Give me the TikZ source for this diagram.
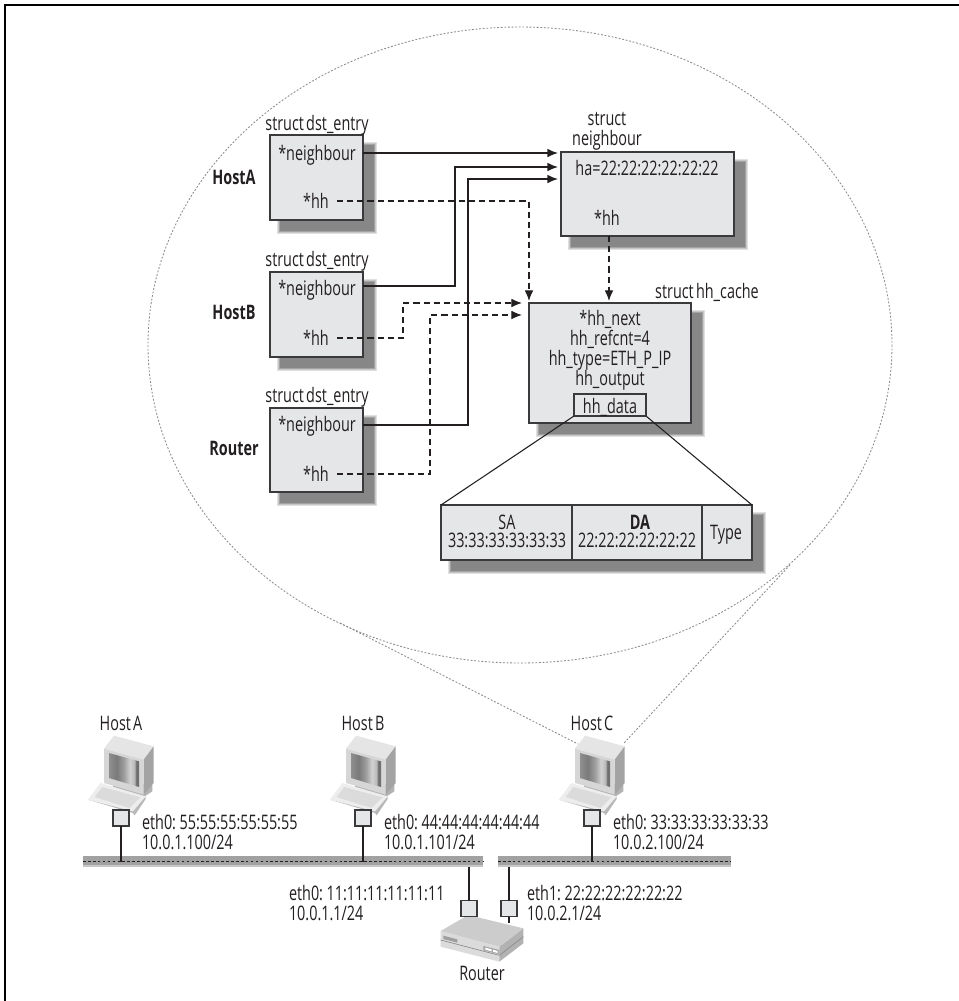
\documentclass[tikz,border=0pt]{standalone}
\usepackage{fontspec}
\setmainfont[FakeStretch=0.72,WordSpace=0.6]{Open Sans}
\usetikzlibrary{arrows.meta}
\definecolor{boxfill}{HTML}{E5E6E8}
\definecolor{boxline}{HTML}{3A3A3C}
\definecolor{ink}{HTML}{231F20}
\pgfdeclarehorizontalshading{screenshade}{100bp}{%
  rgb(0bp)=(.56,.56,.56); rgb(25bp)=(.56,.56,.56); rgb(38bp)=(.48,.48,.48);
  rgb(50bp)=(.62,.62,.62); rgb(60bp)=(.82,.82,.82); rgb(68bp)=(.72,.72,.72);
  rgb(70bp)=(.42,.42,.42); rgb(75bp)=(.45,.45,.45); rgb(100bp)=(.45,.45,.45)}
\newcommand{\softshadow}[4]{%
  \fill[black!12] (#1+7,#2+7) rectangle (#3+14,#4+14);
  \fill[black!22] (#1+8,#2+8) rectangle (#3+13,#4+13);
  \fill[black!36] (#1+9,#2+9) rectangle (#3+12,#4+12);
  \fill[black!47] (#1+10,#2+10) rectangle (#3+11,#4+11);
}
\tikzset{
  lbl/.style={font=\fontsize{15}{16}\selectfont, text=ink, inner sep=0pt, outer sep=0pt, text height=10.5pt, text depth=0pt},
  boldl/.style={lbl, font=\fontsize{15}{16}\selectfont\bfseries},
  multi/.style={font=\fontsize{15}{15}\selectfont, text=ink, inner sep=0pt, outer sep=0pt, align=center},
  leftl/.style={lbl, anchor=west},
  structbox/.style={draw=boxline, fill=boxfill, line width=1.1pt, inner sep=0pt, outer sep=0pt},
  sqr/.style={draw=boxline, fill=boxfill, line width=1pt, minimum size=12pt, inner sep=0pt, outer sep=0pt},
  ptr/.style={draw=ink, line width=1pt, -{Latex[length=8pt,width=6.5pt]}},
  hhptr/.style={draw=ink, line width=0.9pt, dash pattern=on 4.6pt off 3pt, -{Latex[length=8pt,width=6.5pt]}},
  zoomline/.style={draw=black!45, line width=0.65pt, dash pattern=on 1.4pt off 1.3pt},
  wire/.style={draw=ink, line width=0.85pt},
  barfill/.style={fill=black!37, inner sep=0pt, outer sep=0pt},
  computer/.pic={
    \begin{scope}[x=.25pt,y=-.25pt,shift={(-154,-415)}]
      \fill[black!30] (130,305) -- (248,315) -- (248,335) -- (222,352) -- (130,330) -- cycle;
      \fill[black!10] (103,207) -- (133,168) -- (252,200) -- (222,240) -- cycle;
      \fill[black!36] (222,240) -- (252,200) -- (252,310) -- (222,345) -- cycle;
      \fill[black!16] (103,207) -- (222,240) -- (222,345) -- (103,310) -- cycle;
      \shade[shading=screenshade] (118,220) -- (208,245) -- (208,322) -- (118,295) -- cycle;
      \fill[black!28] (55,360) -- (190,400) -- (195,407) -- (228,358) -- (228,350) -- (190,390) -- cycle;
      \fill[black!7] (55,360) -- (92,310) -- (228,350) -- (190,395) -- cycle;
      \fill[black!14] (75,352) -- (98,322) -- (212,353) -- (180,385) -- cycle;
    \end{scope}
  }
}
\begin{document}
\begin{tikzpicture}[x=0.75pt,y=-0.75pt]
\useasboundingbox (0,0) rectangle (959,1001);
\fill[white] (0,0) rectangle (959,1001);
\draw[black, line width=1.1pt] (5,1001) -- (5,5) -- (959,5);

% zoom outline
\draw[zoomline] (520,345) ellipse [x radius=372, y radius=318];
\coordinate (tanL) at (340,623);
\coordinate (tanR) at (790,565);
\coordinate (hostCL) at (578,744);
\coordinate (hostCR) at (624,743);
\draw[zoomline] (tanL) -- (hostCL);
\draw[zoomline] (tanR) -- (hostCR);

% shadows
\softshadow{270}{135}{363}{220}
\softshadow{270}{272}{363}{357}
\softshadow{270}{408}{363}{492}
\softshadow{561}{152}{734}{236}
\softshadow{529}{303}{691}{423}
\softshadow{441}{505}{752}{560}

% boxes
\node[structbox, minimum width=69.75pt, minimum height=63.75pt] (dstA) at (316.5,177.5) {};
\node[structbox, minimum width=69.75pt, minimum height=63.75pt] (dstB) at (316.5,314.5) {};
\node[structbox, minimum width=69.75pt, minimum height=63pt] (dstC) at (316.5,450) {};
\node[structbox, minimum width=129.75pt, minimum height=63pt] (nbr) at (647.5,194) {};
\node[structbox, minimum width=121.5pt, minimum height=90pt] (cache) at (610,363) {};
\node[structbox, line width=.9pt, minimum width=54pt, minimum height=16.5pt] (data) at (610,405) {};
\node[structbox, minimum width=233.25pt, minimum height=41.25pt] (frame) at (596.5,532.5) {};
\coordinate (div1t) at (572,505); \coordinate (div1b) at (572,560);
\coordinate (div2t) at (702,505); \coordinate (div2b) at (702,560);
\draw[boxline, line width=.9pt] (div1t) -- (div1b);
\draw[boxline, line width=.9pt] (div2t) -- (div2b);
\draw[ink, line width=.8pt] (data.south west) -- (frame.north west);
\draw[ink, line width=.8pt] (data.south east) -- (frame.north east);

% labels
\node[lbl] (sA) at (317,123) {struct dst\_entry};
\node[lbl] (sB) at (317,259) {struct dst\_entry};
\node[lbl] (sC) at (317,395) {struct dst\_entry};
\node[lbl] (nA) at (317,153) {*neighbour};
\node[lbl] (nB) at (317,288) {*neighbour};
\node[lbl] (nC) at (317,424) {*neighbour};
\node[lbl] (hA) at (316,201) {*hh};
\node[lbl] (hB) at (316,338) {*hh};
\node[lbl] (hC) at (316,474) {*hh};
\node[boldl] (tA) at (234,177) {HostA};
\node[boldl] (tB) at (234,312) {HostB};
\node[boldl] (tC) at (234,448) {Router};
\node[multi] (sN) at (607,131) {struct\\neighbour};
\node[lbl] (ha) at (647,168) {ha=22:22:22:22:22:22};
\node[lbl] (hN) at (607,218) {*hh};
\node[lbl] (sH) at (707,291) {struct hh\_cache};
\node[multi] (cacheT) at (610,350) {*hh\_next\\hh\_refcnt=4\\hh\_type=ETH\_P\_IP\\hh\_output};
\node[lbl] (dataT) at (610,406) {hh\_data};
\node[lbl] (sa) at (507,522) {SA};
\node[lbl] (saV) at (507,540) {33:33:33:33:33:33};
\node[boldl] (da) at (640,522) {DA};
\node[lbl] (daV) at (637,540) {22:22:22:22:22:22};
\node[lbl] (ty) at (726,532) {Type};

% pointers
\coordinate (in1) at (558,153);
\coordinate (in2) at (558,167);
\coordinate (in3) at (558,179);
\coordinate (bend2) at (455,167);
\coordinate (bend3) at (468,179);
\draw[ptr] (dstA.east |- nA) -- (in1);
\draw[ptr] (dstB.east |- 0,286) -- (bend2 |- 0,286) -- (bend2) -- (in2);
\draw[ptr] (dstC.east |- 0,425) -- (bend3 |- 0,425) -- (bend3) -- (in3);
\coordinate (tipA) at (529,301);
\coordinate (tipB) at (522,303);
\coordinate (tipC) at (522,315);
\coordinate (cornerB) at (403,303);
\coordinate (cornerC) at (430,315);
\draw[hhptr] (337,201) -- (tipA |- hA) -- (tipA);
\draw[hhptr] (337,338) -- (cornerB |- hB) -- (cornerB) -- (tipB);
\draw[hhptr] (337,474) -- (cornerC |- hC) -- (cornerC) -- (tipC);
\coordinate (tipN) at (609,301);
\draw[hhptr] (tipN |- nbr.south) -- (tipN);

% network bars
\node[barfill, minimum width=300pt, minimum height=8pt] (barL) at (283,861.5) {};
\node[barfill, minimum width=174.75pt, minimum height=8pt] (barR) at (614.5,861.5) {};
\fill[black!22] (barL.west) ++(0,3) rectangle (barL.south east);
\fill[black!22] (barR.west) ++(0,3) rectangle (barR.south east);
\draw[ink, line width=.6pt, dash pattern=on 2pt off 1.7pt] (barL.west) -- (barL.east);
\draw[ink, line width=.6pt, dash pattern=on 2pt off 1.7pt] (barR.west) -- (barR.east);

% router body
\begin{scope}[x=.25pt,y=-.25pt,shift={(1200,2160)}]
  \fill[black!14] (122,633) -- (298,680) -- (298,725) -- (122,680) -- cycle;
  \fill[black!30] (298,680) -- (370,625) -- (370,670) -- (298,725) -- cycle;
  \fill[black!20] (122,633) -- (205,585) -- (370,625) -- (298,680) -- cycle;
  \fill[black!38] (130,647) -- (172,658) -- (172,668) -- (130,657) -- cycle;
  \draw[black!45, line width=.5pt] (122,660) -- (298,706) -- (370,650);
  \fill[black!35] (250,678) -- (298,690) -- (298,703) -- (250,691) -- cycle;
  \fill[white] (256,683) -- (275,688) -- (275,694) -- (256,689) -- cycle;
  \fill[white] (279,689) -- (293,693) -- (293,699) -- (279,695) -- cycle;
\end{scope}

% hosts
\pic at (121,818) {computer};
\pic at (363,818) {computer};
\pic at (592,818) {computer};
\node[sqr] (ifA) at (121,818) {};
\node[sqr] (ifB) at (363,818) {};
\node[sqr] (ifC) at (592,818) {};
\node[sqr] (ifR0) at (469,908.5) {};
\node[sqr] (ifR1) at (509,908.5) {};
\coordinate (routerTop) at (509,923);
\draw[wire] (ifA) -- (ifA |- barL);
\draw[wire] (ifB) -- (ifB |- barL);
\draw[wire] (ifC) -- (ifC |- barR);
\draw[wire] (ifR0) -- (ifR0 |- barL.south);
\draw[wire] (ifR1) -- (ifR1 |- barR.south);
\draw[wire] (ifR1) -- (routerTop);

\node[lbl] (lA) at (121,723) {Host A};
\node[lbl] (lB) at (363,723) {Host B};
\node[lbl] (lC) at (592,723) {Host C};
\node[lbl] (lR) at (482,973) {Router};
\node[leftl] (a1) at (142,822) {eth0: 55:55:55:55:55:55};
\node[leftl] (a2) at (142,842) {10.0.1.100/24};
\node[leftl] (b1) at (384,822) {eth0: 44:44:44:44:44:44};
\node[leftl] (b2) at (384,842) {10.0.1.101/24};
\node[leftl] (c1) at (613,822) {eth0: 33:33:33:33:33:33};
\node[leftl] (c2) at (613,842) {10.0.2.100/24};
\node[leftl] (r1) at (289,893) {eth0: 11:11:11:11:11:11};
\node[leftl] (r2) at (289,913) {10.0.1.1/24};
\node[leftl] (r3) at (527,893) {eth1: 22:22:22:22:22:22};
\node[leftl] (r4) at (527,913) {10.0.2.1/24};
\end{tikzpicture}
\end{document}
